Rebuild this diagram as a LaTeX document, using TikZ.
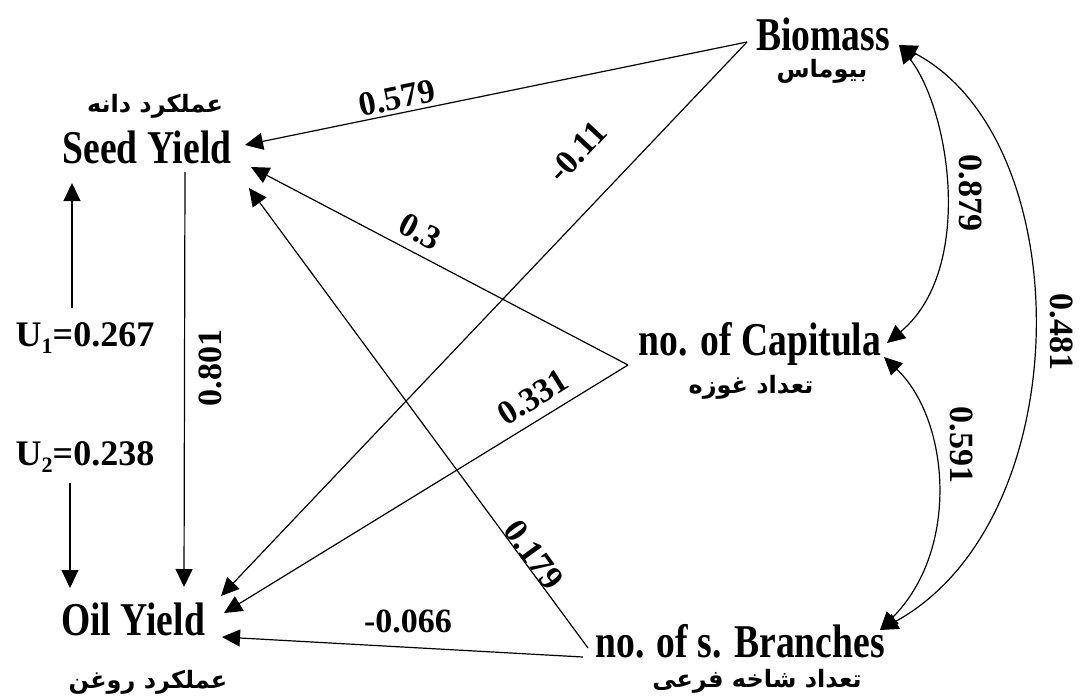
\documentclass[tikz,border=0pt]{standalone}
\usepackage{fontspec}
\usetikzlibrary{arrows.meta}
\TeXXeTstate=1
\newfontfamily\condbf{Liberation Serif}[FakeStretch=0.8]
\newfontfamily\numbf{Liberation Serif}
\newfontfamily\arabicfont[Script=Arabic]{DejaVu Sans}
\begin{document}
\begin{tikzpicture}[x=1pt,y=-1pt,
  lbl/.style={font=\condbf\bfseries\fontsize{47}{47}\selectfont, inner sep=0pt, anchor=base},
  num/.style={font=\numbf\bfseries\fontsize{34}{34}\selectfont, inner sep=0pt},
  ulbl/.style={font=\numbf\bfseries\fontsize{36}{36}\selectfont, inner sep=0pt},
  fa/.style={font=\arabicfont\bfseries\fontsize{24}{24}\selectfont, inner sep=0pt},
  conn/.style={line width=1.2pt, -{Triangle[length=18pt,width=17pt]}},
  corr/.style={line width=1.2pt, {Triangle[length=18pt,width=17pt]}-{Triangle[length=18pt,width=17pt]}}]
\useasboundingbox (0,0) rectangle (1089,697);
\fill[white] (0,0) rectangle (1089,697);
% main nodes
\node[lbl] (sy) at (147,163) {Seed Yield};
\node[lbl] (oy) at (133,635) {Oil Yield};
\node[lbl] (bio) at (823,50) {Biomass};
\node[lbl] (cap) at (760,355) {no. of Capitula};
\node[lbl] (br) at (740,657) {no. of s. Branches};
% Persian captions
\node[fa] (syfa) at (155,106) {\beginR عملکرد دانه\endR};
\node[fa] (oyfa) at (148,682) {\beginR عملکرد روغن\endR};
\node[fa] (biofa) at (822,71) {\beginR بیوماس\endR};
\node[fa] (capfa) at (751,387) {\beginR تعداد غوزه\endR};
\node[fa] (brfa) at (757,681) {\beginR تعداد شاخه فرعی\endR};
% residual labels
\node[ulbl] (u1) at (85,338) {U\raisebox{-0.22em}{\fontsize{22}{22}\selectfont 1}=0.267};
\node[ulbl] (u2) at (85,457) {U\raisebox{-0.22em}{\fontsize{22}{22}\selectfont 2}=0.238};
% ports
\coordinate (bio-w) at (747,42);
\coordinate (bio-e) at (899,45);
\coordinate (sy-a) at (245,145);
\coordinate (sy-b) at (251,167);
\coordinate (sy-c) at (249,188);
\coordinate (sy-s) at (185,172);
\coordinate (sy-u) at (72,183);
\coordinate (u1-top) at (72,308);
\coordinate (u2-bot) at (70,483);
\coordinate (oy-a) at (221,596);
\coordinate (oy-b) at (224,613);
\coordinate (oy-c) at (222,637);
\coordinate (oy-n) at (184,587);
\coordinate (oy-u) at (70,588);
\coordinate (cap-w) at (628,365);
\coordinate (cap-e1) at (887,343);
\coordinate (cap-e2) at (884,357);
\coordinate (br-w1) at (588,648);
\coordinate (br-w2) at (583,657);
\coordinate (br-e) at (880,630);
% paths
\draw[conn] (bio-w) -- (sy-a);
\draw[conn] (bio-w) -- (oy-a);
\draw[conn] (cap-w) -- (sy-b);
\draw[conn] (cap-w) -- (oy-b);
\draw[conn] (br-w1) -- (sy-c);
\draw[conn] (br-w2) -- (oy-c);
\draw[conn] (sy-s) -- (oy-n);
\draw[conn] (u1-top) -- (sy-u);
\draw[conn] (u2-bot) -- (oy-u);
\draw[corr] (cap-e1) .. controls (975,270) and (950,110) .. (bio-e);
\draw[corr] (br-e) .. controls (1080,520) and (1080,140) .. (bio-e);
\draw[corr] (cap-e2) .. controls (950,420) and (960,550) .. (br-e);
% coefficient labels
\node[num,rotate=11.6] (l579) at (397,98) {0.579};
\node[num,rotate=47] (l011) at (577,152) {-0.11};
\node[num,rotate=-27.6] (l03) at (420,232) {0.3};
\node[num,rotate=32] (l331) at (533,397) {0.331};
\node[num,rotate=-54] (l179) at (534,555) {0.179};
\node[num] (l066) at (408,621) {-0.066};
\node[num,rotate=90] (l801) at (210,368) {0.801};
\node[num,rotate=-90] (l879) at (971,193) {0.879};
\node[num,rotate=-90] (l591) at (962,445) {0.591};
\node[num,rotate=-90] (l481) at (1062,332) {0.481};
\end{tikzpicture}
\end{document}
